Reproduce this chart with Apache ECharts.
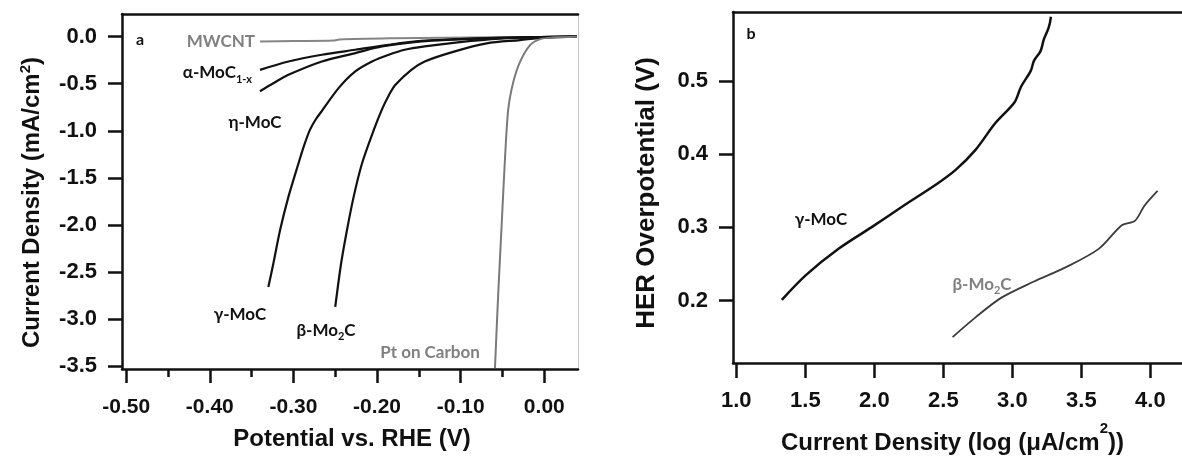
<!DOCTYPE html>
<html>
<head>
<meta charset="utf-8">
<script src="https://cdn.jsdelivr.net/npm/echarts@6/dist/echarts.min.js"></script>
<style>
  html, body { margin: 0; padding: 0; background: #fff; }
  #chart { width: 1182px; height: 460px; }
</style>
</head>
<body>
<div id="chart"></div>
<script>
// ---- Panel a: polarization curves (potential V vs. RHE, current density mA/cm2) ----
const mwcntV = [-0.340, -0.300, -0.252, -0.245, -0.180, -0.120, -0.060, 0.000, 0.039];
const mwcntJ = [-0.051, -0.047, -0.042, -0.030, -0.017, -0.012, -0.008, -0.004, -0.001];

const alphaV = [-0.340, -0.306, -0.266, -0.226, -0.186, -0.147, -0.110, -0.077, -0.040, -0.005, 0.039];
const alphaJ = [-0.353, -0.264, -0.193, -0.140, -0.087, -0.045, -0.030, -0.019, -0.010, -0.005, 0.000];

const etaV = [-0.340, -0.323, -0.306, -0.266, -0.226, -0.194, -0.147, -0.110, -0.077, -0.040, -0.005, 0.039];
const etaJ = [-0.580, -0.490, -0.406, -0.264, -0.175, -0.104, -0.051, -0.032, -0.021, -0.011, -0.005, 0.000];

const gammaV = [-0.330, -0.324, -0.316, -0.306, -0.294, -0.287, -0.280, -0.273, -0.266, -0.246, -0.226, -0.206, -0.186, -0.167, -0.143, -0.101, -0.053, -0.005, 0.039];
const gammaJ = [-2.659, -2.410, -2.056, -1.702, -1.348, -1.150, -0.985, -0.875, -0.790, -0.547, -0.370, -0.264, -0.193, -0.140, -0.104, -0.058, -0.021, -0.005, 0.000];

const betaV = [-0.250, -0.243, -0.236, -0.228, -0.218, -0.204, -0.194, -0.186, -0.178, -0.159, -0.143, -0.109, -0.069, -0.029, 0.001, 0.039];
const betaJ = [-2.871, -2.410, -2.056, -1.702, -1.348, -0.994, -0.770, -0.625, -0.512, -0.353, -0.264, -0.162, -0.072, -0.037, -0.011, 0.000];

const ptV = [-0.059, -0.055, -0.051, -0.047, -0.043, -0.037, -0.029, -0.017, -0.005, 0.010, 0.039];
const ptJ = [-3.520, -2.712, -2.003, -1.294, -0.763, -0.480, -0.268, -0.090, -0.027, -0.010, -0.002];

const potentialTicks = [-0.5, -0.4, -0.3, -0.2, -0.1, 0];
const potentialMinorTicks = [-0.45, -0.35, -0.25, -0.15, -0.05];
const currentTicks = [-3.5, -3.0, -2.5, -2.0, -1.5, -1.0, -0.5, 0];

// ---- Panel b: Tafel plots (log current density vs. overpotential) ----
const tafelGammaLog = [1.330, 1.506, 1.743, 1.978, 2.214, 2.450, 2.591, 2.733, 2.874, 3.016, 3.062, 3.133, 3.157, 3.204, 3.228, 3.263, 3.279];
const tafelGammaEta = [0.201, 0.235, 0.271, 0.300, 0.330, 0.359, 0.379, 0.406, 0.442, 0.471, 0.492, 0.514, 0.528, 0.541, 0.557, 0.573, 0.588];

const tafelBetaLog = [2.567, 2.733, 2.921, 3.157, 3.393, 3.628, 3.793, 3.888, 3.958, 4.052];
const tafelBetaEta = [0.150, 0.177, 0.204, 0.226, 0.246, 0.271, 0.303, 0.309, 0.330, 0.350];

const logTicks = [1.0, 1.5, 2.0, 2.5, 3.0, 3.5, 4.0];
const etaTicks = [0.2, 0.3, 0.4, 0.5];

// ---- styling ----
const AXIS_FONT = '"Liberation Sans", Arial, sans-serif';
const NOTE_FONT = 'Lato, "Open Sans", sans-serif';
const INK = '#111';
const GREY = '#808080';

const pairs = (xs, ys) => xs.map((x, i) => [x, ys[i]]);

function frameAxis(gridIndex, position, color, width) {
  return {
    gridIndex, type: 'value', position,
    axisLine: { show: true, onZero: false, lineStyle: { color, width } },
    axisTick: { show: false }, axisLabel: { show: false }, splitLine: { show: false }
  };
}

function curve(name, xs, ys, xAxisIndex, yAxisIndex, color, width) {
  return {
    name, type: 'line', xAxisIndex, yAxisIndex,
    data: pairs(xs, ys),
    showSymbol: false, symbol: 'none',
    smooth: 0.3,
    lineStyle: { color, width },
    silent: true, animation: false
  };
}

const tickLabel = (size) => ({
  fontSize: size, fontWeight: 'bold', color: INK, fontFamily: AXIS_FONT
});

const chart = echarts.init(document.getElementById('chart'), null, { renderer: 'canvas' });

chart.setOption({
  backgroundColor: '#fff',
  animation: false,
  grid: [
    { left: 122, top: 14, width: 456, height: 355, containLabel: false },
    { left: 733, top: 12, width: 460, height: 355, containLabel: false }
  ],
  xAxis: [
    {
      gridIndex: 0, type: 'value', min: -0.505, max: 0.0403, position: 'bottom',
      axisLine: { show: true, onZero: false, lineStyle: { color: INK, width: 2.5 } },
      axisTick: { show: true, length: 14, customValues: potentialTicks, lineStyle: { color: INK, width: 2.5 } },
      axisLabel: { customValues: potentialTicks, formatter: v => v.toFixed(2), margin: 28, ...tickLabel(21) },
      splitLine: { show: false },
      name: 'Potential vs. RHE (V)', nameLocation: 'middle', nameGap: 58,
      nameTextStyle: { fontSize: 24, fontWeight: 'bold', color: INK, fontFamily: AXIS_FONT, padding: [0, 0, 0, 4] }
    },
    {
      gridIndex: 0, type: 'value', min: -0.505, max: 0.0403, position: 'bottom',
      axisLine: { show: false, onZero: false },
      axisTick: { show: true, length: 8, customValues: potentialMinorTicks, lineStyle: { color: INK, width: 2.5 } },
      axisLabel: { show: false }, splitLine: { show: false }
    },
    frameAxis(0, 'top', INK, 2.5),
    {
      gridIndex: 1, type: 'value', min: 0.976, max: 4.229, position: 'bottom',
      axisLine: { show: true, onZero: false, lineStyle: { color: INK, width: 2.5 } },
      axisTick: { show: true, length: 15, customValues: logTicks, lineStyle: { color: INK, width: 2.5 } },
      axisLabel: { customValues: logTicks, formatter: v => v.toFixed(1), margin: 27, ...tickLabel(22) },
      splitLine: { show: false },
      name: '{t|Current Density (log (μA/cm}{s|2}{t|))}', nameLocation: 'middle', nameGap: 58,
      nameTextStyle: {
        padding: [0, 10, 0, 0],
        rich: {
          t: { fontSize: 24, fontWeight: 'bold', color: INK, fontFamily: AXIS_FONT, lineHeight: 44 },
          s: { fontSize: 15, fontWeight: 'bold', color: INK, fontFamily: AXIS_FONT, lineHeight: 14, verticalAlign: 'top' }
        }
      }
    },
    frameAxis(1, 'top', INK, 2.5)
  ],
  yAxis: [
    {
      gridIndex: 0, type: 'value', min: -3.53, max: 0.24, position: 'left',
      axisLine: { show: true, onZero: false, lineStyle: { color: INK, width: 2.5 } },
      axisTick: { show: true, length: 14, customValues: currentTicks, lineStyle: { color: INK, width: 2.5 } },
      axisLabel: { customValues: currentTicks, formatter: v => v.toFixed(1), margin: 25, ...tickLabel(22) },
      splitLine: { show: false },
      name: '{t|Current Density (mA/cm}{s|2}{t|)}', nameLocation: 'middle', nameGap: 76,
      nameTextStyle: {
        padding: [0, 22, 0, 0],
        rich: {
          t: { fontSize: 24, fontWeight: 'bold', color: INK, fontFamily: AXIS_FONT, lineHeight: 28 },
          s: { fontSize: 15, fontWeight: 'bold', color: INK, fontFamily: AXIS_FONT, lineHeight: 11, verticalAlign: 'top' }
        }
      }
    },
    frameAxis(0, 'right', '#c4c4c4', 1),
    {
      gridIndex: 1, type: 'value', min: 0.1146, max: 0.5945, position: 'left',
      axisLine: { show: true, onZero: false, lineStyle: { color: INK, width: 2.5 } },
      axisTick: { show: true, length: 14, customValues: etaTicks, lineStyle: { color: INK, width: 2.5 } },
      axisLabel: { customValues: etaTicks, formatter: v => v.toFixed(1), margin: 25, ...tickLabel(22) },
      splitLine: { show: false },
      name: 'HER Overpotential (V)', nameLocation: 'middle', nameGap: 73,
      nameTextStyle: { fontSize: 26, fontWeight: 'bold', color: INK, fontFamily: AXIS_FONT, padding: [0, 11, 0, 0] }
    }
  ],
  series: [
    curve('MWCNT', mwcntV, mwcntJ, 0, 0, '#858585', 2),
    curve('α-MoC1-x', alphaV, alphaJ, 0, 0, INK, 2.2),
    curve('η-MoC', etaV, etaJ, 0, 0, INK, 2.2),
    curve('γ-MoC', gammaV, gammaJ, 0, 0, INK, 2.2),
    curve('β-Mo2C', betaV, betaJ, 0, 0, INK, 2.2),
    curve('Pt on Carbon', ptV, ptJ, 0, 0, '#7a7a7a', 2),
    curve('γ-MoC Tafel', tafelGammaLog, tafelGammaEta, 3, 2, INK, 2.5),
    curve('β-Mo2C Tafel', tafelBetaLog, tafelBetaEta, 3, 2, '#3c3c3c', 1.8)
  ],
  graphic: [
    { type: 'text', x: 140, y: 40, style: { text: 'a', fill: INK, fontSize: 16, fontWeight: 'bold', fontFamily: NOTE_FONT, align: 'center', verticalAlign: 'middle' } },
    { type: 'text', x: 255, y: 42, style: { text: 'MWCNT', fill: GREY, fontSize: 17, fontWeight: 'bold', fontFamily: NOTE_FONT, align: 'right', verticalAlign: 'middle' } },
    { type: 'text', x: 252, y: 73, style: {
        text: '{m|α-MoC}{sub|1-x}', align: 'right', verticalAlign: 'middle',
        rich: {
          m: { fill: INK, fontSize: 17, fontWeight: 'bold', fontFamily: NOTE_FONT, lineHeight: 24 },
          sub: { fill: INK, fontSize: 11, fontWeight: 'bold', fontFamily: NOTE_FONT, lineHeight: 12, verticalAlign: 'bottom' }
        } } },
    { type: 'text', x: 255, y: 123, style: { text: 'η-MoC', fill: INK, fontSize: 17, fontWeight: 'bold', fontFamily: NOTE_FONT, align: 'center', verticalAlign: 'middle' } },
    { type: 'text', x: 240, y: 315, style: { text: 'γ-MoC', fill: INK, fontSize: 17, fontWeight: 'bold', fontFamily: NOTE_FONT, align: 'center', verticalAlign: 'middle' } },
    { type: 'text', x: 326, y: 331, style: {
        text: '{m|β-Mo}{sub|2}{m|C}', align: 'center', verticalAlign: 'middle',
        rich: {
          m: { fill: INK, fontSize: 17, fontWeight: 'bold', fontFamily: NOTE_FONT, lineHeight: 22 },
          sub: { fill: INK, fontSize: 11, fontWeight: 'bold', fontFamily: NOTE_FONT, lineHeight: 12, verticalAlign: 'bottom' }
        } } },
    { type: 'text', x: 430, y: 353, style: { text: 'Pt on Carbon', fill: GREY, fontSize: 17, fontWeight: 'bold', fontFamily: NOTE_FONT, align: 'center', verticalAlign: 'middle' } },
    { type: 'text', x: 751, y: 34, style: { text: 'b', fill: INK, fontSize: 16, fontWeight: 'bold', fontFamily: NOTE_FONT, align: 'center', verticalAlign: 'middle' } },
    { type: 'text', x: 821, y: 220, style: { text: 'γ-MoC', fill: INK, fontSize: 17, fontWeight: 'bold', fontFamily: NOTE_FONT, align: 'center', verticalAlign: 'middle' } },
    { type: 'text', x: 982, y: 285, style: {
        text: '{m|β-Mo}{sub|2}{m|C}', align: 'center', verticalAlign: 'middle',
        rich: {
          m: { fill: GREY, fontSize: 17, fontWeight: 'bold', fontFamily: NOTE_FONT, lineHeight: 22 },
          sub: { fill: GREY, fontSize: 11, fontWeight: 'bold', fontFamily: NOTE_FONT, lineHeight: 12, verticalAlign: 'bottom' }
        } } }
  ]
});
</script>
</body>
</html>
